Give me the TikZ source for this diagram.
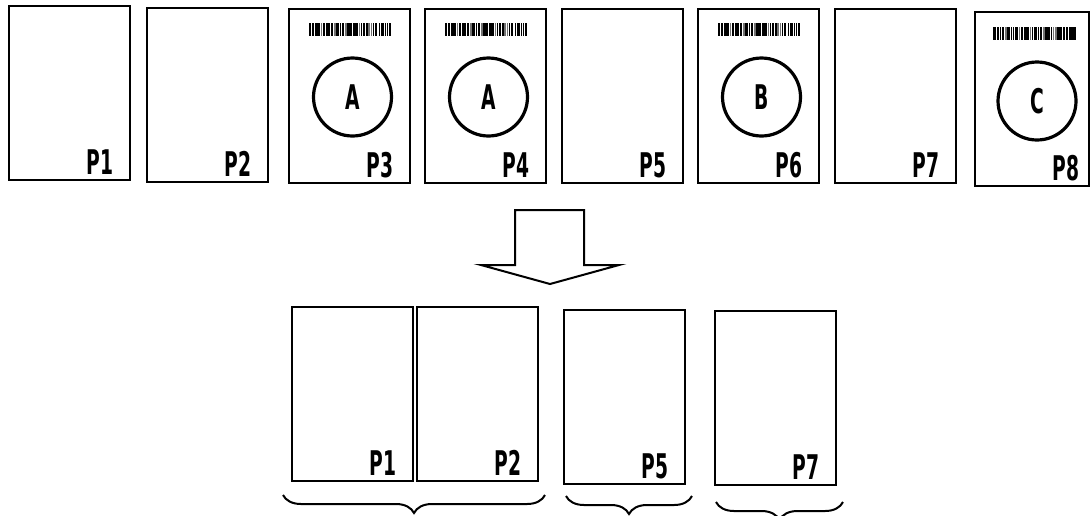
\documentclass[tikz,border=0pt]{standalone}
\usepackage{fontspec}
\newfontfamily\etiqfont{DejaVu Sans}[FakeStretch=0.55]
\usetikzlibrary{decorations.pathreplacing}
\newcommand{\etiq}{\etiqfont\bfseries\fontsize{17pt}{17pt}\selectfont}
\newcommand{\codebarre}[2]{% coin haut gauche
  \foreach \bx/\bw/\bc in {0/2.5/black,3.5/2/black,6.5/1.5/black,8.5/2.5/black,12/1.5/black!55,14/2.5/black,17.5/1.5/black,19.5/1.5/black,22/2.5/black,25.5/1.5/black!55,27.5/2.5/black,31/1.5/black,33/2.5/black,36.5/1.5/black!55,38.5/1.5/black,40.5/3/black,44.5/1.5/black,46.5/2.5/black,50/1.5/black!55,52/1.5/black,54/2.5/black,57.5/1.5/black,59.5/1.5/black!55,62/1.5/black!55,64/1.5/black,66/2.5/black,70/1.5/black,72.5/2.5/black,76/1.5/black,78/1.5/black,80/2.5/black}
    \fill[color=\bc] (#1+\bx,#2) rectangle ++(\bw,13);
}
\tikzset{
  feuille/.style={draw, line width=1pt, minimum width=60.5pt, minimum height=87pt, inner sep=0pt},
  numero/.style={font=\etiq, anchor=base east, inner sep=0pt},
  rond/.style={draw, circle, line width=1.6pt, minimum size=39pt, inner sep=0pt, font=\etiq},
  accolade/.style={decorate, decoration={brace, mirror, amplitude=9pt}, line width=1pt}
}
\begin{document}
\begin{tikzpicture}[x=0.5pt, y=-0.5pt]
    \useasboundingbox (0,0) rectangle (1090,515);
    % rangee du haut
    \foreach \n/\cx/\cy in {1/69.5/93, 2/207.5/95, 3/349.5/96, 4/485.5/96, 5/622.5/96, 6/758.5/96, 7/895.5/96}
    {
        \node[feuille] (p\n) at (\cx,\cy) {};
        \node[numero] (l\n) at ([xshift=-8.5pt, yshift=3.5pt]p\n.south east) {P\n};
    }
    \node[feuille, minimum width=57pt] (p8) at (1032,99) {}; %Coupee a droite
    \node[numero] (l8) at ([xshift=-5pt, yshift=3.5pt]p8.south east) {P8};
    % codes barres et ronds
    \foreach \n/\cx/\top/\lettre in {3/349.5/9/A, 4/485.5/9/A, 6/758.5/9/B, 8/1034/13/C}
    {
        \codebarre{\cx-41}{\top+14}
        \node[rond] (r\n) at (\cx+3,\top+88) {\lettre};
    }
    % fleche
    \draw[line width=1pt, line join=miter] (515,210) -- (584,210) -- (584,265) -- (619,265) -- (550,284) -- (481,265) -- (515,265) -- cycle;
    % rangee du bas
    \foreach \n/\cx/\cy in {1/352.5/394, 2/477.5/394, 5/624.5/397, 7/775.5/398}
    {
        \node[feuille] (b\n) at (\cx,\cy) {};
        \node[numero] (lb\n) at ([xshift=-8.5pt, yshift=3.5pt]b\n.south east) {P\n};
    }
    % accolades
    \coordinate (a1) at (283,495); \coordinate (a2) at (545,495);
    \coordinate (a3) at (566,496); \coordinate (a4) at (692,496);
    \coordinate (a5) at (716,502); \coordinate (a6) at (843,502);
    \draw[accolade] (a1) -- (a2);
    \draw[accolade] (a3) -- (a4);
    \draw[accolade] (a5) -- (a6);
\end{tikzpicture}
\end{document}
